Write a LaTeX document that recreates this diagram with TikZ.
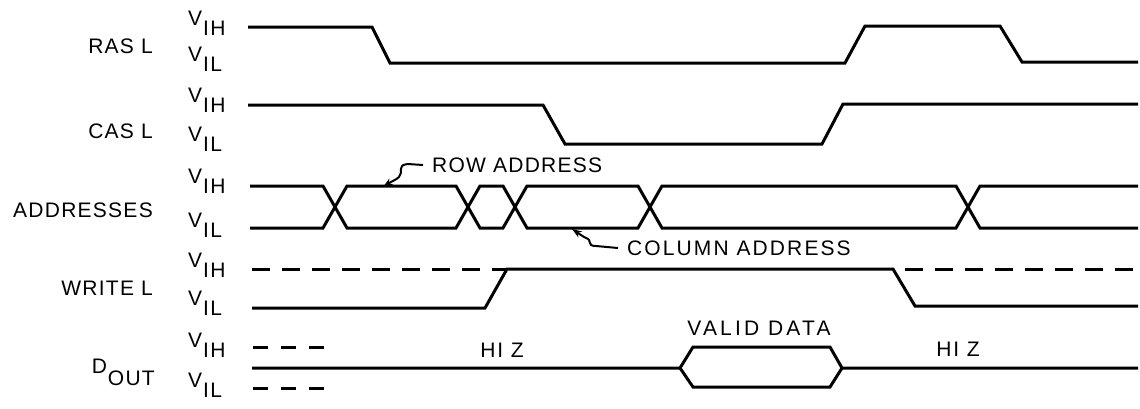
\documentclass[tikz,border=0pt]{standalone}
\usepackage{fontspec}
\setmainfont{Liberation Sans}[LetterSpace=6]
\usetikzlibrary{arrows.meta}
\newcommand{\vsub}[1]{V\kern1pt\raisebox{-10.5pt}{#1}}
\tikzset{
  wave/.style={line width=3pt, line join=miter, line cap=butt},
  dwave/.style={line width=3pt, dash pattern=on 18pt off 12pt},
  lbl/.style={font=\fontsize{21}{25}\selectfont, inner sep=0pt},
  leader/.style={line width=2pt, -{Stealth[length=10pt,width=7pt]}},
}
\begin{document}
\begin{tikzpicture}[x=1pt,y=-1pt]
\useasboundingbox (0,0) rectangle (1140,408);
% signal names
\node[lbl,anchor=base east] (ras) at (153,53) {RAS L};
\node[lbl,anchor=base east] (cas) at (153,138) {CAS L};
\node[lbl,anchor=base east] (addr) at (153,217) {ADDRESSES};
\node[lbl,anchor=base east] (wr) at (153,295) {WRITE L};
\node[lbl,anchor=base east] (dout) at (155,373) {D\kern1pt\raisebox{-12pt}{OUT}};
% level labels
\node[lbl,anchor=base west] (rasH) at (188,25) {\vsub{IH}};
\node[lbl,anchor=base west] (rasL) at (188,61) {\vsub{IL}};
\node[lbl,anchor=base west] (casH) at (188,102) {\vsub{IH}};
\node[lbl,anchor=base west] (casL) at (188,141) {\vsub{IL}};
\node[lbl,anchor=base west] (adH) at (188,183) {\vsub{IH}};
\node[lbl,anchor=base west] (adL) at (188,227) {\vsub{IL}};
\node[lbl,anchor=base west] (wrH) at (188,267) {\vsub{IH}};
\node[lbl,anchor=base west] (wrL) at (188,305) {\vsub{IL}};
\node[lbl,anchor=base west] (doH) at (188,347) {\vsub{IH}};
\node[lbl,anchor=base west] (doL) at (188,387) {\vsub{IL}};
% RAS
\draw[wave] (248,27) -- (372,27) -- (390,63) -- (845,63) -- (865,26) -- (1000,26) -- (1022,62) -- (1138,62);
% CAS
\draw[wave] (248,105) -- (543,105) -- (565,144) -- (822,144) -- (843,104) -- (1138,104);
% ADDRESSES
\draw[wave] (250,186) -- (323,186) -- (347,228) -- (456,228) -- (480,186) -- (503,186) -- (527,228) -- (638,228) -- (662,186) -- (956,186) -- (980,228) -- (1138,228);
\draw[wave] (250,228) -- (323,228) -- (347,186) -- (456,186) -- (480,228) -- (503,228) -- (527,186) -- (638,186) -- (662,228) -- (956,228) -- (980,186) -- (1138,186);
% WRITE
\draw[wave] (252,308) -- (485,308) -- (507,269) -- (893,269) -- (915,306) -- (1138,306);
\draw[dwave] (252,269) -- (507,269);
\draw[dwave] (905,269) -- (1138,269);
% DOUT
\draw[dwave, dash pattern=on 15pt off 13pt] (253,347) -- (335,347);
\draw[dwave, dash pattern=on 15pt off 13pt] (253,388) -- (335,388);
\draw[wave] (252,368) -- (680,368) -- (693,347) -- (830,347) -- (842,368) -- (1138,368);
\draw[wave] (680,368) -- (693,387) -- (830,387) -- (842,368);
% annotations
\node[lbl,anchor=west] (row) at (432,165) {ROW ADDRESS};
\node[lbl,anchor=west] (col) at (627,248) {\addfontfeature{LetterSpace=10}COLUMN ADDRESS};
\node[lbl] (valid) at (759,328) {\addfontfeature{LetterSpace=15}VALID DATA};
\node[lbl] (hiz1) at (502,350) {\addfontfeature{LetterSpace=9}HI Z};
\node[lbl] (hiz2) at (958,349) {\addfontfeature{LetterSpace=9}HI Z};
\coordinate (rowtip) at (383,187);
\coordinate (coltip) at (572,229);
\draw[leader] ([xshift=-9pt]row.west) -- (408,164) .. controls (396,165) and (404,172) .. (399,177) .. controls (396,180) and (392,181) .. (rowtip);
\draw[leader] ([xshift=-9pt]col.west) -- (596,246) .. controls (586,246) and (593,240) .. (586,238) .. controls (582,236) and (578,233) .. (coltip);
\end{tikzpicture}
\end{document}
